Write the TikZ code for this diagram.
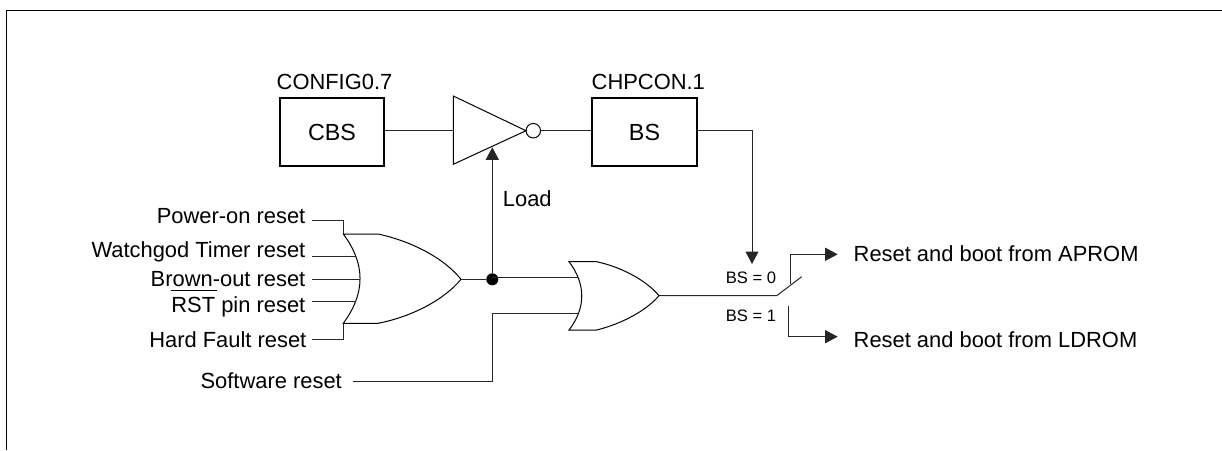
\documentclass[tikz,border=0pt]{standalone}
\usepackage{fontspec}
\setmainfont{Liberation Sans}
\usetikzlibrary{arrows.meta}
\tikzset{
 x=1pt,y=-1pt,
 wire/.style={line width=1pt,black!85},
 regbox/.style={draw=black,line width=2.4pt,minimum width=104.5pt,minimum height=68.5pt,inner sep=0pt,font=\fontsize{23.3pt}{26pt}\selectfont},
 lab/.style={inner sep=0pt,font=\fontsize{21.9pt}{25pt}\selectfont,anchor=base east},
 labw/.style={inner sep=0pt,font=\fontsize{21.9pt}{25pt}\selectfont,anchor=base west},
 small/.style={inner sep=0pt,font=\fontsize{16.6pt}{19pt}\selectfont,anchor=base west},
 gate/.style={line width=1pt,draw=black},
 arr/.style={-{Triangle[length=12.5pt,width=13pt]}},
 frame/.style={line width=1.2pt,draw=black},
}
\begin{document}
\begin{tikzpicture}
\useasboundingbox (0,0) rectangle (1222,450);
\coordinate (fa) at (6.5,450);
\coordinate (fb) at (6.5,10.5);
\coordinate (fc) at (1222,10.5);
\draw[frame] (fa) -- (fb) -- (fc);
\node[regbox] (cbs) at (332,132) {CBS};
\node[regbox] (bs) at (644.5,132) {BS};
\node[labw] (cfg) at (276.5,89.5) {CONFIG0.7};
\node[labw] (chp) at (591.5,89.5) {CHPCON.1};
\draw[gate] (453.3,96) -- (526,130.7) -- (453.3,164.3) -- cycle;
\coordinate (bufin) at (453.3,130.7);
\coordinate (bufload) at (492.3,147.3);
\node[draw=black,line width=1pt,circle,inner sep=0pt,minimum size=14.5pt] (bub) at (533.3,130.7) {};
\draw[wire] (cbs.east |- bufin) -- (bufin);
\draw[wire] (bub) -- (bs.west |- bub);
\coordinate (bstip) at (752,264);
\draw[wire,arr] (bs.east |- bub) -| (bstip);
% first OR
\draw[gate] (343.3,234) -- (378,234) .. controls (411,241) and (444,258) .. (461,279.3)
 .. controls (444,300) and (411,317) .. (378,323.3) -- (343.3,323.3)
 .. controls (365.6,293) and (365.6,264) .. (343.3,234) -- cycle;
\coordinate (o1) at (461,279.3);
\node[circle,fill=black,inner sep=0pt,minimum size=12pt] (dot) at (492.3,279.3) {};
\draw[wire] (o1) -- (dot);
\draw[wire,arr] (dot) -- (bufload);
\node[labw] (load) at (502.7,206) {Load};
% labels
\node[lab] (p) at (305.5,223.3) {Power-on reset};
\node[lab] (w) at (305.5,257.5) {Watchgod Timer reset};
\node[lab] (b) at (305.5,286) {Brown-out reset};
\node[lab] (r) at (305.5,312.7) {\makebox[0pt][l]{\raisebox{21.5pt}{\rule{45.5pt}{0.9pt}}}RST pin reset};
\node[lab] (h) at (306.5,347.2) {Hard Fault reset};
\node[lab] (s) at (342,388) {Software reset};
\coordinate (i1) at (343.3,234);
\coordinate (i5) at (343.3,323.3);
\coordinate (i2) at (356,256);
\coordinate (i3) at (360,279.3);
\coordinate (i4) at (356,301.3);
\draw[wire] (312.3,220) -| (i1);
\draw[wire] (312.3,256) -- (i2);
\draw[wire] (312.3,279.3) -- (i3);
\draw[wire] (312.3,301.3) -- (i4);
\draw[wire] (312.3,339.3) -| (i5);
% second OR
\draw[gate] (569,261.7) -- (596.7,261.7) .. controls (621,267) and (646,280) .. (659,295.7)
 .. controls (646,311) and (621,324) .. (596.7,330) -- (569,330)
 .. controls (586,308) and (586,284) .. (569,261.7) -- cycle;
\coordinate (o2) at (659,295.7);
\coordinate (j1) at (578,277.7);
\coordinate (j2) at (578,313.3);
\coordinate (jm) at (492.3,313.3);
\draw[wire] (dot.center |- j1) -- (j1);
\draw[wire] (352.7,381) -| (jm) -- (j2);
% switch
\coordinate (sw) at (776.7,295.7);
\draw[wire] (o2) -- (sw) -- (801.7,276.7);
\draw[wire,arr] (790,284) |- (837.7,254.3);
\draw[wire,arr] (788.3,305.7) |- (837.7,336.7);
\node[small] (b0) at (725.7,283.3) {BS = 0};
\node[small] (b1) at (725.7,321) {BS = 1};
\node[labw] (ra) at (853.5,261.7) {Reset and boot from APROM};
\node[labw] (rl) at (853.5,347.3) {Reset and boot from LDROM};
\end{tikzpicture}
\end{document}
